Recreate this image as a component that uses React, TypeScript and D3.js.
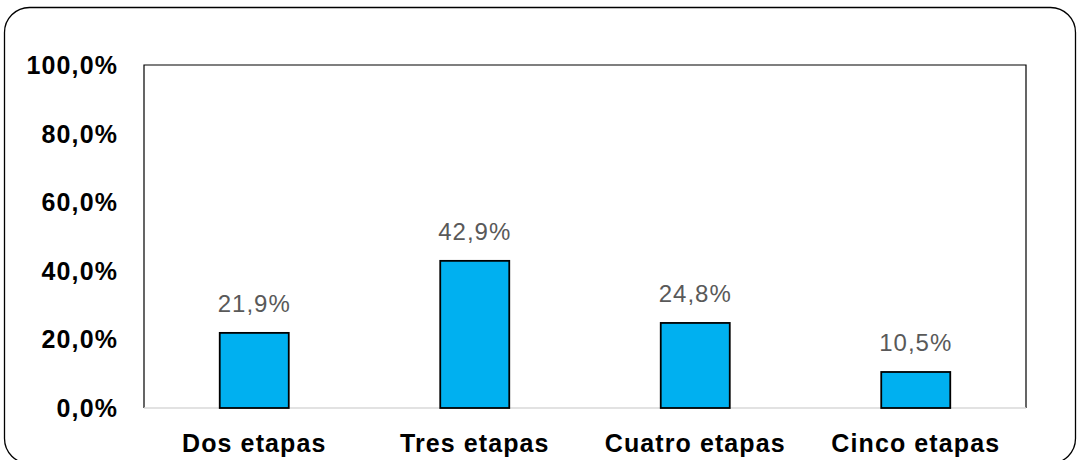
import React from "react";
import * as d3 from "d3";

const categories = ["Dos etapas", "Tres etapas", "Cuatro etapas", "Cinco etapas"];
const values = [21.9, 42.9, 24.8, 10.5];
const yTicks = [0, 20, 40, 60, 80, 100];

const W = 1079;
const H = 460;
const M = { left: 144, right: 1026, top: 65, bottom: 408 };

const fmt = (v: number, d: number) => v.toFixed(d).replace(".", ",") + "%";

export default function App() {
  const x = d3.scaleBand<string>().domain(categories).range([M.left, M.right]).paddingInner(0.687).paddingOuter(0.3435);
  const y = d3.scaleLinear().domain([0, 100]).range([M.bottom, M.top]);
  const font = "'Liberation Sans', Arial, sans-serif";
  return (
    <svg width={W} height={H} style={{ position: "absolute", left: 0, top: 0 }}>
      <rect x={0} y={0} width={W} height={H} fill="#fff" />
      <rect x={4.5} y={7.5} width={1071} height={456} rx={25} ry={25} fill="#fff" stroke="#000" strokeWidth={1.3} />
      <path d={`M${M.left},${M.bottom} V${M.top} H${M.right} V${M.bottom}`} fill="none" stroke="#000" strokeWidth={1.2} />
      <line x1={M.left} x2={M.right} y1={M.bottom} y2={M.bottom} stroke="#d9d9d9" strokeWidth={1.5} />
      {yTicks.map((t) => (
        <text key={t} x={118} y={y(t)} dy="0.36em" textAnchor="end" fontFamily={font} fontWeight="bold" fontSize={25} letterSpacing={1.1} fill="#000">
          {fmt(t, 1)}
        </text>
      ))}
      {categories.map((c, i) => (
        <g key={c}>
          <rect x={x(c)} y={y(values[i])} width={x.bandwidth()} height={y(0) - y(values[i])} fill="#00b0f0" stroke="#000" strokeWidth={1.8} />
          <text x={x(c)! + x.bandwidth() / 2} y={y(values[i]) - 21} textAnchor="middle" fontFamily={font} fontSize={24} letterSpacing={1} fill="#595959">
            {fmt(values[i], 1)}
          </text>
          <text x={x(c)! + x.bandwidth() / 2} y={452} textAnchor="middle" fontFamily={font} fontWeight="bold" fontSize={25} letterSpacing={1.1} fill="#000">
            {c}
          </text>
        </g>
      ))}
    </svg>
  );
}
